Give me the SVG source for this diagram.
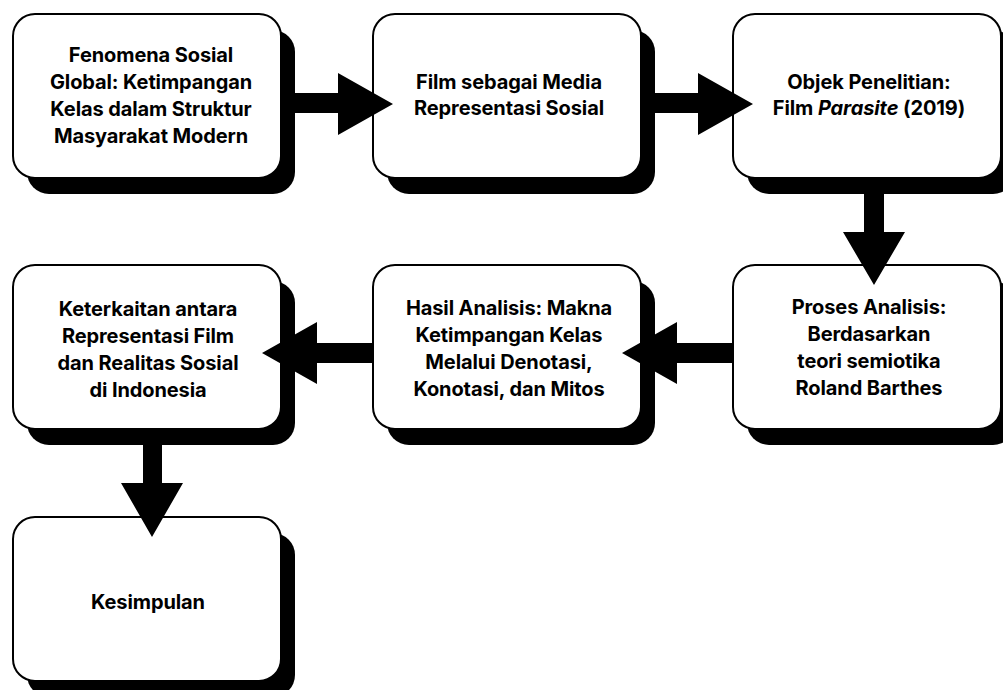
<svg xmlns="http://www.w3.org/2000/svg" width="1003" height="690" viewBox="0 0 1003 690">
<style>
.sh{fill:#000}
.bx{fill:#fff;stroke:#000;stroke-width:2}
.t{font-family:Inter,"Liberation Sans",sans-serif;font-weight:700;font-size:20px;fill:#000;text-anchor:middle;letter-spacing:-0.1px}
.ar{fill:#000}
</style>
<defs>
<g id="card">
<rect class="sh" x="14" y="16" width="268" height="164" rx="22"/>
<rect class="bx" x="0" y="0" width="268" height="164" rx="22"/>
</g>
</defs>
<g id="n1"><use href="#card" x="13" y="14"/>
<text class="t"><tspan x="151" y="62">Fenomena Sosial</tspan><tspan x="151" y="89">Global: Ketimpangan</tspan><tspan x="151" y="116">Kelas dalam Struktur</tspan><tspan x="151" y="143">Masyarakat Modern</tspan></text></g>
<g id="n2"><use href="#card" x="373" y="14"/>
<text class="t"><tspan x="509" y="89">Film sebagai Media</tspan><tspan x="509" y="115">Representasi Sosial</tspan></text></g>
<g id="n3"><use href="#card" x="733" y="14"/>
<text class="t"><tspan x="869" y="89">Objek Penelitian:</tspan><tspan x="869" y="115">Film <tspan font-style="italic">Parasite</tspan> (2019)</tspan></text></g>
<g id="n4"><use href="#card" x="733" y="265"/>
<text class="t"><tspan x="869" y="314">Proses Analisis:</tspan><tspan x="869" y="341">Berdasarkan</tspan><tspan x="869" y="368">teori semiotika</tspan><tspan x="869" y="395">Roland Barthes</tspan></text></g>
<g id="n5"><use href="#card" x="373" y="265"/>
<text class="t"><tspan x="509" y="315">Hasil Analisis: Makna</tspan><tspan x="509" y="342">Ketimpangan Kelas</tspan><tspan x="509" y="369">Melalui Denotasi,</tspan><tspan x="509" y="396">Konotasi, dan Mitos</tspan></text></g>
<g id="n6"><use href="#card" x="13" y="265"/>
<text class="t"><tspan x="148" y="316">Keterkaitan antara</tspan><tspan x="148" y="343">Representasi Film</tspan><tspan x="148" y="370">dan Realitas Sosial</tspan><tspan x="148" y="397">di Indonesia</tspan></text></g>
<g id="n7"><use href="#card" x="13" y="517"/>
<text class="t"><tspan x="148" y="609">Kesimpulan</tspan></text></g>
<g id="connectors">
<path class="ar" d="M283 93H338V73L393 104L338 135V113H283Z"/>
<path class="ar" d="M643 93H698V73L753 104L698 135V113H643Z"/>
<path class="ar" d="M864 180V232H843L874 285L905 232H884V180Z"/>
<path class="ar" d="M733 343H677V322L622 353L677 384V363H733Z"/>
<path class="ar" d="M373 343H317V322L262 353L317 384V363H373Z"/>
<path class="ar" d="M143 430V483H121L152 537L183 483H162V430Z"/>
</g>
</svg>
